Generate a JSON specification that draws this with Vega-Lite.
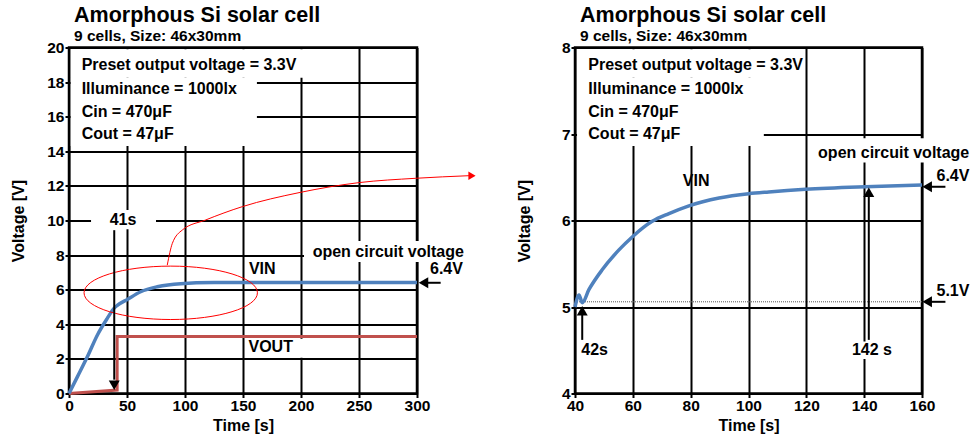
{
  "$schema": "https://vega.github.io/schema/vega-lite/v6.json",
  "background": "white",
  "autosize": {"type": "pad"},
  "padding": {"left": 10, "top": 4.5, "right": 0, "bottom": 0},
  "spacing": 158,
  "bounds": "flush",
  "config": {
    "view": {"stroke": null},
    "font": "Liberation Sans",
    "axis": {
      "grid": true, "gridColor": "#000", "gridWidth": 2, "gridOpacity": 1,
      "domain": false, "ticks": true, "tickColor": "#000", "tickWidth": 2, "tickSize": 4,
      "labelPadding": 1, "labelFont": "Liberation Sans", "labelFontSize": 15.5, "labelFontWeight": "bold", "labelColor": "#000",
      "titleFont": "Liberation Sans", "titleFontSize": 16, "titleFontWeight": "bold", "titleColor": "#000",
      "labelFlush": false, "labelOverlap": false
    },
    "title": {
      "font": "Liberation Sans", "fontSize": 21.5, "fontWeight": "bold", "color": "#000",
      "subtitleFont": "Liberation Sans", "subtitleFontSize": 15.5, "subtitleFontWeight": "bold", "subtitleColor": "#000",
      "subtitlePadding": 0, "anchor": "start", "frame": "group", "offset": -4
    },
    "text": {"font": "Liberation Sans", "fontSize": 16, "fontWeight": "bold", "color": "#000"}
  },
  "datasets": {
    "frameL": [{"t": 0, "t2": 300, "v": 0, "v2": 20}],
    "frameR": [{"t": 40, "t2": 160, "v": 4, "v2": 8}],
    "boxL": [
      {"t": 1.5, "t2": 202.6, "v": 19.9, "v2": 18.25},
      {"t": 1.5, "t2": 162, "v": 18.25, "v2": 14.3},
      {"t": 19, "t2": 75, "v": 10.6, "v2": 9.5},
      {"t": 202.6, "t2": 349, "v": 8.82, "v2": 7.6},
      {"t": 153.4, "t2": 206.9, "v": 3.17, "v2": 2.07}
    ],
    "boxR": [
      {"t": 40.7, "t2": 118.5, "v": 7.98, "v2": 7.65},
      {"t": 40.7, "t2": 105.3, "v": 7.65, "v2": 6.86},
      {"t": 122.6, "t2": 178, "v": 6.95, "v2": 6.67},
      {"t": 135, "t2": 150.2, "v": 4.6, "v2": 4.4}
    ],
    "vinL": [
      {"t": 0, "v": 0}, {"t": 7.2, "v": 0.96}, {"t": 15.8, "v": 2.12}, {"t": 24.4, "v": 3.37},
      {"t": 33, "v": 4.34}, {"t": 38.8, "v": 4.92}, {"t": 41.6, "v": 5.09}, {"t": 50.3, "v": 5.44},
      {"t": 61.8, "v": 5.88}, {"t": 76.1, "v": 6.17}, {"t": 96.3, "v": 6.35}, {"t": 125, "v": 6.41},
      {"t": 168, "v": 6.42}, {"t": 230, "v": 6.42}, {"t": 300, "v": 6.42}
    ],
    "voutL": [
      {"i": 1, "t": 0, "v": 0}, {"i": 2, "t": 41.5, "v": 0.2}, {"i": 3, "t": 41.5, "v": 3.3}, {"i": 4, "t": 300, "v": 3.3}
    ],
    "vinR": [
      {"t": 40, "v": 5.0}, {"t": 41.4, "v": 5.14}, {"t": 42.5, "v": 5.05}, {"t": 44.8, "v": 5.2},
      {"t": 49.4, "v": 5.43}, {"t": 55.2, "v": 5.66}, {"t": 59.8, "v": 5.81}, {"t": 66.7, "v": 5.99},
      {"t": 72.5, "v": 6.08}, {"t": 79.4, "v": 6.17}, {"t": 89.8, "v": 6.26}, {"t": 100.1, "v": 6.31},
      {"t": 107, "v": 6.33}, {"t": 119.7, "v": 6.36}, {"t": 140.4, "v": 6.39}, {"t": 160, "v": 6.41}
    ],
    "callout": [
      {"t": 84.7, "v": 7.42}, {"t": 89.1, "v": 8.68}, {"t": 97.7, "v": 9.45}, {"t": 117.8, "v": 10.03},
      {"t": 149.4, "v": 10.8}, {"t": 198.3, "v": 11.61}, {"t": 250, "v": 12.19}, {"t": 298.9, "v": 12.44},
      {"t": 344.8, "v": 12.59}
    ],
    "ellipse": [{"t": 87.7, "v": 5.82}],
    "redHead": [{"t": 347.4, "v": 12.59}],
    "rulesL": [
      {"t": 39, "t2": 39, "v": 9.44, "v2": 0.8},
      {"t": 305, "t2": 320.4, "v": 6.4, "v2": 6.4}
    ],
    "headsL": [
      {"t": 39, "v": 0.48, "dir": "down"},
      {"t": 305.6, "v": 6.4, "dir": "left"}
    ],
    "rulesR": [
      {"t": 42.5, "t2": 42.5, "v": 4.62, "v2": 4.95},
      {"t": 141.6, "t2": 141.6, "v": 4.62, "v2": 6.3},
      {"t": 161, "t2": 168.1, "v": 6.39, "v2": 6.39},
      {"t": 161, "t2": 168.1, "v": 5.06, "v2": 5.06}
    ],
    "dottedR": [{"t": 40, "t2": 160, "v": 5.06, "v2": 5.06}],
    "headsR": [
      {"t": 42.5, "v": 4.958, "dir": "up"},
      {"t": 141.6, "v": 6.327, "dir": "up"},
      {"t": 161.8, "v": 6.39, "dir": "left"},
      {"t": 161.8, "v": 5.06, "dir": "left"}
    ],
    "txtL": [
      {"t": 46.6, "v": 10.02, "label": "41s"},
      {"t": 166.6, "v": 7.18, "label": "VIN"},
      {"t": 173.9, "v": 2.66, "label": "VOUT"},
      {"t": 275.2, "v": 8.19, "label": "open circuit voltage"},
      {"t": 325.4, "v": 7.18, "label": "6.4V"}
    ],
    "presetL": [
      {"t": 10.9, "v": 18.97, "label": "Preset output voltage = 3.3V"},
      {"t": 10.9, "v": 17.63, "label": "Illuminance = 1000lx"},
      {"t": 10.9, "v": 16.3, "label": "Cin = 470μF"},
      {"t": 10.9, "v": 15.02, "label": "Cout = 47μF"}
    ],
    "txtR": [
      {"t": 81.9, "v": 6.46, "label": "VIN"},
      {"t": 150.2, "v": 6.78, "label": "open circuit voltage"},
      {"t": 170.7, "v": 6.52, "label": "6.4V"},
      {"t": 170.7, "v": 5.19, "label": "5.1V"},
      {"t": 46.8, "v": 4.5, "label": "42s"},
      {"t": 142.7, "v": 4.5, "label": "142 s"}
    ],
    "presetR": [
      {"t": 44.6, "v": 7.794, "label": "Preset output voltage = 3.3V"},
      {"t": 44.6, "v": 7.525, "label": "Illuminance = 1000lx"},
      {"t": 44.6, "v": 7.259, "label": "Cin = 470μF"},
      {"t": 44.6, "v": 7.003, "label": "Cout = 47μF"}
    ]
  },
  "hconcat": [
    {
      "width": 348, "height": 346,
      "title": {"text": "Amorphous Si solar cell", "subtitle": "9 cells, Size: 46x30mm", "anchor": "start", "frame": "group", "dx": 5},
      "encoding": {
        "x": {"field": "t", "type": "quantitative", "scale": {"domain": [0, 300], "nice": false, "zero": false},
              "axis": {"values": [0, 50, 100, 150, 200, 250, 300], "title": "Time [s]", "titlePadding": 3}},
        "y": {"field": "v", "type": "quantitative", "scale": {"domain": [0, 20], "nice": false, "zero": false},
              "axis": {"values": [0, 2, 4, 6, 8, 10, 12, 14, 16, 18, 20], "title": "Voltage [V]", "titleX": -43}}
      },
      "layer": [
        {"data": {"name": "frameL"}, "mark": {"type": "rect", "filled": false, "color": "#000", "strokeWidth": 2.5},
         "encoding": {"x2": {"field": "t2"}, "y2": {"field": "v2"}}},
        {"data": {"name": "boxL"}, "mark": {"type": "rect", "color": "white", "opacity": 1},
         "encoding": {"x2": {"field": "t2"}, "y2": {"field": "v2"}}},
        {"data": {"name": "voutL"}, "mark": {"type": "line", "color": "#C0504D", "strokeWidth": 3},
         "encoding": {"order": {"field": "i", "type": "quantitative"}}},
        {"data": {"name": "vinL"}, "mark": {"type": "line", "color": "#4F81BD", "strokeWidth": 3.5, "interpolate": "monotone"},
         "encoding": {}},
        {"data": {"name": "ellipse"}, "mark": {"type": "point", "shape": "M-1,0A1,0.308,0,1,0,1,0A1,0.308,0,1,0,-1,0Z", "size": 30068, "filled": false, "color": "#ff0000", "strokeWidth": 1, "opacity": 1},
         "encoding": {}},
        {"data": {"name": "callout"}, "mark": {"type": "line", "color": "#ff0000", "strokeWidth": 1, "interpolate": "monotone"},
         "encoding": {}},
        {"data": {"name": "redHead"}, "mark": {"type": "point", "shape": "triangle-right", "size": 70, "filled": true, "color": "#ff0000", "opacity": 1},
         "encoding": {}},
        {"data": {"name": "rulesL"}, "mark": {"type": "rule", "color": "#000", "strokeWidth": 2},
         "encoding": {"x2": {"field": "t2"}, "y2": {"field": "v2"}}},
        {"data": {"name": "headsL"}, "mark": {"type": "point", "filled": true, "color": "#000", "size": 120, "opacity": 1},
         "encoding": {"shape": {"field": "dir", "type": "nominal", "scale": {"domain": ["down", "up", "left", "right"], "range": ["triangle-down", "triangle-up", "triangle-left", "triangle-right"]}, "legend": null}}},
        {"data": {"name": "txtL"}, "mark": {"type": "text", "align": "center", "baseline": "middle"},
         "encoding": {"text": {"field": "label"}}},
        {"data": {"name": "presetL"}, "mark": {"type": "text", "align": "left", "baseline": "middle"},
         "encoding": {"text": {"field": "label"}}}
      ]
    },
    {
      "width": 347, "height": 346,
      "title": {"text": "Amorphous Si solar cell", "subtitle": "9 cells, Size: 46x30mm", "anchor": "start", "frame": "group", "dx": 5},
      "encoding": {
        "x": {"field": "t", "type": "quantitative", "scale": {"domain": [40, 160], "nice": false, "zero": false},
              "axis": {"values": [40, 60, 80, 100, 120, 140, 160], "title": "Time [s]", "titlePadding": 3}},
        "y": {"field": "v", "type": "quantitative", "scale": {"domain": [4, 8], "nice": false, "zero": false},
              "axis": {"values": [4, 5, 6, 7, 8], "title": "Voltage [V]", "titleX": -43}}
      },
      "layer": [
        {"data": {"name": "frameR"}, "mark": {"type": "rect", "filled": false, "color": "#000", "strokeWidth": 2.5},
         "encoding": {"x2": {"field": "t2"}, "y2": {"field": "v2"}}},
        {"data": {"name": "boxR"}, "mark": {"type": "rect", "color": "white", "opacity": 1},
         "encoding": {"x2": {"field": "t2"}, "y2": {"field": "v2"}}},
        {"data": {"name": "dottedR"}, "mark": {"type": "rule", "color": "#555", "strokeWidth": 1, "strokeDash": [1, 1]},
         "encoding": {"x2": {"field": "t2"}, "y2": {"field": "v2"}}},
        {"data": {"name": "vinR"}, "mark": {"type": "line", "color": "#4F81BD", "strokeWidth": 3.5, "interpolate": "monotone"},
         "encoding": {}},
        {"data": {"name": "rulesR"}, "mark": {"type": "rule", "color": "#000", "strokeWidth": 2},
         "encoding": {"x2": {"field": "t2"}, "y2": {"field": "v2"}}},
        {"data": {"name": "headsR"}, "mark": {"type": "point", "filled": true, "color": "#000", "size": 120, "opacity": 1},
         "encoding": {"shape": {"field": "dir", "type": "nominal", "scale": {"domain": ["down", "up", "left", "right"], "range": ["triangle-down", "triangle-up", "triangle-left", "triangle-right"]}, "legend": null}}},
        {"data": {"name": "txtR"}, "mark": {"type": "text", "align": "center", "baseline": "middle"},
         "encoding": {"text": {"field": "label"}}},
        {"data": {"name": "presetR"}, "mark": {"type": "text", "align": "left", "baseline": "middle"},
         "encoding": {"text": {"field": "label"}}}
      ]
    }
  ]
}
